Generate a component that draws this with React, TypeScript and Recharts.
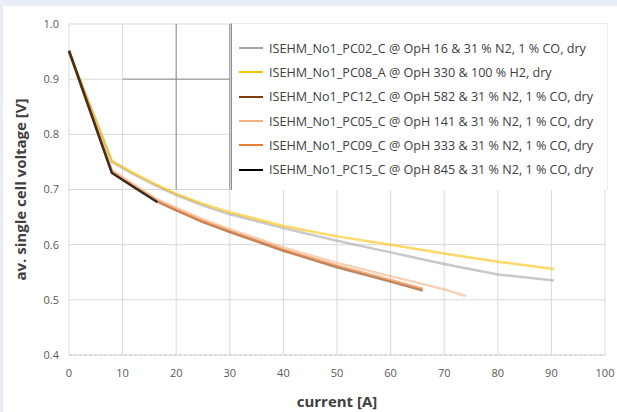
import {
  LineChart,
  Line,
  XAxis,
  YAxis,
  CartesianGrid,
  Legend,
  ReferenceLine,
} from 'recharts'

const currentTicks = [0, 10, 20, 30, 40, 50, 60, 70, 80, 90, 100]
const voltageTicks = [0.4, 0.5, 0.6, 0.7, 0.8, 0.9, 1.0]

const pc02Current = [0, 8, 12, 16, 20, 25, 30, 40, 50, 60, 70, 80, 90.5]
const pc02Voltage = [0.95, 0.75, 0.728, 0.708, 0.69, 0.671, 0.655, 0.63, 0.607, 0.586, 0.565, 0.546, 0.535]

const pc08Current = [0, 8, 12, 16, 20, 25, 30, 40, 50, 60, 70, 80, 90.5]
const pc08Voltage = [0.95, 0.752, 0.73, 0.71, 0.692, 0.674, 0.659, 0.634, 0.615, 0.6, 0.584, 0.569, 0.556]

const pc12Current = [0, 8, 12, 16.5, 20, 25, 30, 40, 50, 60, 66]
const pc12Voltage = [0.95, 0.731, 0.705, 0.678, 0.662, 0.641, 0.623, 0.589, 0.559, 0.533, 0.517]

const pc05Current = [0, 8, 12, 16, 20, 25, 30, 40, 50, 60, 70, 74]
const pc05Voltage = [0.95, 0.735, 0.71, 0.684, 0.667, 0.646, 0.628, 0.595, 0.567, 0.543, 0.519, 0.507]

const pc09Current = [0, 8, 12, 16.5, 20, 25, 30, 40, 50, 60, 66]
const pc09Voltage = [0.95, 0.733, 0.707, 0.68, 0.664, 0.643, 0.625, 0.591, 0.562, 0.536, 0.52]

const pc15Current = [0, 8, 12, 16.5]
const pc15Voltage = [0.952, 0.73, 0.705, 0.677]

const seriesNames = [
  'ISEHM_No1_PC02_C @ OpH 16 & 31 % N2, 1 % CO, dry',
  'ISEHM_No1_PC08_A @ OpH 330 & 100 % H2, dry',
  'ISEHM_No1_PC12_C @ OpH 582 & 31 % N2, 1 % CO, dry',
  'ISEHM_No1_PC05_C @ OpH 141 & 31 % N2, 1 % CO, dry',
  'ISEHM_No1_PC09_C @ OpH 333 & 31 % N2, 1 % CO, dry',
  'ISEHM_No1_PC15_C @ OpH 845 & 31 % N2, 1 % CO, dry',
]
const seriesColors = ['#a5a5a5', '#ffc000', '#843c0c', '#f4b183', '#ed7d31', '#000000']

const toPoints = (current: number[], voltage: number[]) =>
  current.map((c, i) => ({ current: c, voltage: voltage[i] }))

const series = [
  toPoints(pc02Current, pc02Voltage),
  toPoints(pc08Current, pc08Voltage),
  toPoints(pc12Current, pc12Voltage),
  toPoints(pc05Current, pc05Voltage),
  toPoints(pc09Current, pc09Voltage),
  toPoints(pc15Current, pc15Voltage),
]

// drawing order: light orange above the brown/orange pair, black on top
const drawOrder = [0, 1, 2, 4, 3, 5]

const FONT = '"Open Sans", "DejaVu Sans", sans-serif'

function LegendBox() {
  return (
    <div
      style={{
        background: '#fff',
        borderLeft: '1px solid #8c8c8c',
        borderTop: '1px solid #ececec',
        borderRight: '1px solid #ececec',
        width: 377,
        height: 167,
        boxSizing: 'border-box',
        paddingTop: 12,
        fontFamily: FONT,
        fontSize: 12.6,
        color: '#404040',
      }}
    >
      {seriesNames.map((name, i) => (
        <div key={name} style={{ display: 'flex', alignItems: 'center', height: 24.3 }}>
          <span
            style={{
              display: 'inline-block',
              marginLeft: 7,
              width: 24,
              height: 2,
              background: seriesColors[i],
            }}
          />
          <span style={{ marginLeft: 6, whiteSpace: 'nowrap' }}>{name}</span>
        </div>
      ))}
    </div>
  )
}

export default function App() {
  return (
    <div style={{ position: 'fixed', left: 0, top: 0, width: 617, height: 412, background: '#e7eef6' }}>
      <div style={{ position: 'absolute', left: 3, top: 6, width: 614, height: 406, background: '#fff' }}>
        <LineChart width={614} height={406} margin={{ top: 18, right: 12, left: 0, bottom: 0 }}>
          <CartesianGrid stroke="#d9d9d9" />
          <XAxis
            type="number"
            dataKey="current"
            domain={[0, 100]}
            ticks={currentTicks}
            height={57}
            axisLine={false}
            tickLine={false}
            tickMargin={8}
            tick={{ fill: '#595959', fontSize: 11, fontFamily: FONT }}
            label={{
              value: 'current [A]',
              position: 'insideBottom',
              offset: 5,
              style: { fill: '#404040', fontSize: 15, fontWeight: 700, fontFamily: FONT },
            }}
          />
          <YAxis
            type="number"
            domain={[0.4, 1.0]}
            ticks={voltageTicks}
            width={66}
            axisLine={false}
            tickLine={false}
            tickMargin={4}
            tickFormatter={(v: number) => v.toFixed(1)}
            tick={{ fill: '#595959', fontSize: 11, fontFamily: FONT }}
            label={{
              value: 'av. single cell voltage [V]',
              angle: -90,
              position: 'insideLeft',
              offset: 18,
              style: { fill: '#404040', fontSize: 15, fontWeight: 700, fontFamily: FONT, textAnchor: 'middle' },
            }}
          />
          <ReferenceLine y={0.4} stroke="#c8c8c8" strokeDasharray="3 2" />
          <ReferenceLine segment={[{ x: 20, y: 0.7 }, { x: 20, y: 1.0 }]} stroke="#8c8c8c" />
          <ReferenceLine segment={[{ x: 30, y: 0.7 }, { x: 30, y: 1.0 }]} stroke="#8c8c8c" />
          <ReferenceLine segment={[{ x: 10, y: 0.9 }, { x: 30, y: 0.9 }]} stroke="#8c8c8c" />
          {drawOrder.map((i) => (
            <Line
              key={seriesNames[i]}
              data={series[i]}
              dataKey="voltage"
              name={seriesNames[i]}
              type="linear"
              stroke={seriesColors[i]}
              strokeWidth={2.5}
              strokeOpacity={i === 5 ? 0.7 : 0.6}
              dot={false}
              isAnimationActive={false}
            />
          ))}
          <Legend
            layout="vertical"
            align="center"
            verticalAlign="middle"
            content={() => <LegendBox />}
            wrapperStyle={{ left: 228, top: 17, width: 377, height: 167 }}
          />
        </LineChart>
      </div>
    </div>
  )
}
